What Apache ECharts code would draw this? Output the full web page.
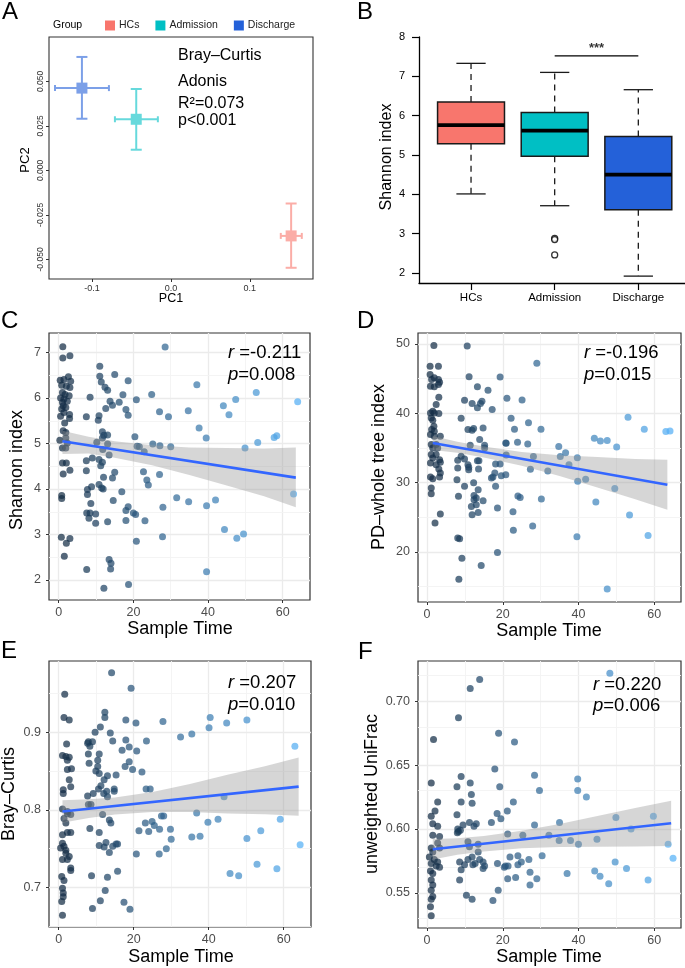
<!DOCTYPE html>
<html><head><meta charset="utf-8">
<script src="https://cdn.jsdelivr.net/npm/echarts@6/dist/echarts.min.js"></script>
<style>html,body{margin:0;padding:0;background:#fff}#c{width:685px;height:968px}</style>
</head><body><div id="c"></div>
<script>
const FONT = '"Liberation Sans", Arial, Helvetica, sans-serif';

// ---------- Panel A : PCoA group means with error bars ----------
const groups = ['HCs', 'Admission', 'Discharge'];
const pc1Mean = [0.1523, -0.0439, -0.1127];
const pc1Low  = [0.1392, -0.0709, -0.1468];
const pc1High = [0.1658, -0.0165, -0.0785];
const pc2Mean = [-0.0368, 0.0287, 0.0462];
const pc2Low  = [-0.0547, 0.0116, 0.0290];
const pc2High = [-0.0186, 0.0457, 0.0637];
const pc1Ticks = [-0.1, 0, 0.1];
const pc1TickLabels = ['-0.1', '0.0', '0.1'];
const pc2Ticks = [-0.05, -0.025, 0, 0.025, 0.05];
const pc2TickLabels = ['-0.050', '-0.025', '0.000', '0.025', '0.050'];

// ---------- Panel B : Shannon boxplot ----------
// [lower whisker, Q1, median, Q3, upper whisker]
const boxStats = [
  [4.01, 5.285, 5.76, 6.35, 7.33],
  [3.71, 4.97, 5.62, 6.08, 7.10],
  [1.92, 3.61, 4.50, 5.47, 6.66]
];
const boxOutliers = [[2, 2.88], [2, 2.85], [2, 2.46]];
const boxTicks = [2, 3, 4, 5, 6, 7, 8];
const sigBracket = [[2, 7.52], [3, 7.52]];

// ---------- Scatter panels: [Sample Time, value] ----------
const shannonPoints = [
[1.1,7.13],[1.1,6.88],[3.0,6.93],[11.0,6.70],[11.0,6.48],[15.0,6.52],[18.6,6.38],[11.4,6.35],[12.4,6.24],[13.1,6.17],
[0.4,6.39],[1.4,6.41],[2.6,6.47],[3.2,6.37],[0.8,6.28],[2.05,6.26],[3.0,6.23],[1.0,6.12],[1.7,6.08],[2.8,6.05],[0.5,6.0],[1.4,5.98],[2.3,5.93],[1.0,5.9],[1.2,5.83],[0.8,5.76],[1.9,5.79],[1.4,5.68],
[8.4,6.02],[17.2,6.07],[16.2,5.91],[13.75,5.93],[14.4,5.84],[12.6,5.77],[18.0,5.75],[18.6,5.62],[20.8,5.96],[7.4,5.59],[0.5,5.60],[2.9,5.64],[2.9,5.55],[10.8,5.61],[10.6,5.51],[1.6,5.45],[1.2,5.28],[1.9,5.24],[1.9,5.12],[11.7,5.26],[12.1,5.18],[13.1,5.19],[11.7,5.12],[20.4,5.15],[0.3,5.07],[1.0,4.90],[2.3,5.01],[1.9,4.90],[10.2,5.03],[13.1,4.99],[11.8,4.87],[13.5,4.75],[21.0,4.94],[7.4,4.62],[9.0,4.68],[10.8,4.65],[11.7,4.59],[11.25,4.51],[1.0,4.57],[2.05,4.57],[7.4,4.40],[3.0,4.41],[1.2,4.33],[15.0,4.37],[14.4,4.24],[12.0,4.26],[8.8,4.05],[7.7,3.99],[7.7,3.88],[10.8,4.10],[11.5,4.02],[11.9,4.0],[16.9,3.94],[0.8,3.86],[0.8,3.79],[14.6,3.75],[8.6,3.68],[18.6,3.61],[18.0,3.53],[20.0,3.47],[20.6,3.44],[7.5,3.47],[8.4,3.47],[9.9,3.45],[8.1,3.36],[9.9,3.25],[13.1,3.28],[18.0,3.31],[20.8,2.85],[0.7,2.94],[3.0,2.91],[2.05,2.81],[1.5,2.52],[7.5,2.23],[13.5,2.45],[14.0,2.37],[13.9,2.24],[12.1,1.82],[18.7,1.90],
[28.5,7.12],[37.0,6.29],[24.9,6.08],[34.7,5.72],[27.0,5.70],[29.4,5.59],[44.1,5.83],[47.4,5.97],[45.6,5.63],[52.9,6.12],[64.0,5.92],[37.6,5.34],[39.5,5.12],[21.6,4.93],[22.9,4.82],[25.2,4.99],[27.1,4.95],[30.0,4.93],[49.9,4.90],[53.3,5.02],[57.7,5.13],[58.4,5.17],[22.7,4.38],[23.6,4.20],[24.0,4.09],[27.0,4.32],[31.6,3.81],[34.8,3.72],[39.6,3.63],[42.0,3.76],[27.9,3.60],[23.1,3.30],[27.8,2.95],[44.4,3.11],[47.7,2.92],[49.5,3.01],[39.6,2.18],[62.9,3.89]
];
const pdPoints = [
[1.8,49.76],[10.6,49.66],[0.8,46.77],[3.0,46.77],[0.8,45.57],[1.9,45.09],[3.0,44.85],[3.3,44.46],[0.9,43.89],[1.9,43.79],[3.0,44.13],[1.2,44.85],[11.1,45.23],[19.3,45.19],[13.3,43.79],[16.1,43.31],[3.1,42.30],[2.4,41.24],[1.5,40.27],[0.9,40.03],[1.9,40.03],[3.1,39.94],[1.1,39.31],[1.5,38.97],[1.8,38.11],[9.9,41.86],[11.9,41.38],[13.3,40.76],[14.5,41.72],[14.1,41.38],[17.2,40.52],[9.0,39.26],[10.8,37.63],[11.9,37.53],[12.3,37.77],[14.8,37.87],[1.2,37.63],[1.9,37.39],[0.9,36.9],[1.9,36.66],[3.5,36.66],[13.9,36.18],[11.4,35.36],[15.2,35.36],[15.2,34.98],[20.8,35.70],[1.1,35.46],[2.4,35.46],[1.5,34.98],[2.8,34.98],[1.1,34.02],[2.4,34.02],[1.5,33.53],[3.3,33.29],[0.9,32.81],[2.4,32.57],[3.5,32.91],[9.0,33.77],[8.1,33.2],[9.9,33.39],[10.8,32.57],[8.1,32.09],[13.3,33.15],[13.7,33.15],[13.6,31.95],[11.0,32.19],[11.0,31.85],[18.1,32.67],[19.3,32.67],[3.1,31.95],[3.5,31.37],[0.9,30.79],[1.5,30.55],[3.3,30.79],[17.9,31.37],[17.4,30.79],[17.0,30.65],[19.6,30.98],[20.8,31.13],[7.9,30.4],[9.9,29.44],[12.3,29.97],[18.1,29.44],[1.1,29.2],[1.1,28.38],[8.3,28.0],[13.5,28.96],[12.4,28.14],[13.0,27.76],[12.4,27.52],[14.8,27.37],[11.7,26.55],[13.0,26.79],[11.9,25.35],[13.5,25.69],[18.6,26.31],[3.5,25.44],[2.1,24.15],[8.1,21.98],[8.6,21.88],[9.2,19.09],[18.6,19.91],[14.3,18.03],[8.4,16.06],
[29.0,47.2],[21.1,42.15],[25.1,41.9],[22.2,39.26],[23.1,37.67],[26.8,38.6],[30.1,37.67],[20.9,35.65],[23.9,35.8],[26.6,35.56],[20.9,33.97],[28.1,33.73],[27.3,31.9],[31.9,31.65],[34.8,35.17],[35.2,33.73],[36.6,34.3],[37.5,32.57],[39.7,33.58],[39.8,30.16],[41.9,30.45],[44.2,36.37],[45.8,35.99],[47.6,36.04],[50.1,35.12],[53.1,39.41],[57.4,37.67],[63.1,37.34],[64.2,37.43],[49.6,29.15],[44.6,27.18],[53.5,25.3],[58.4,22.36],[39.6,22.17],[47.6,14.66],[30.2,27.61],[24.6,27.85],[24.0,28.04],[22.7,25.78],[22.8,23.13],[27.9,23.71]
];
const brayPoints = [
[14.1,0.977],[19.3,0.957],[1.6,0.949],[1.4,0.919],[2.8,0.916],[12.3,0.926],[12.3,0.919],[11.1,0.907],[9.7,0.900],[17.9,0.916],[20.6,0.912],[13.75,0.899],[14.4,0.889],[9.0,0.888],[7.9,0.888],[7.7,0.886],[8.3,0.882],[17.9,0.890],[16.9,0.877],[18.8,0.881],[20.8,0.876],[2.1,0.885],[1.0,0.870],[1.9,0.869],[2.8,0.868],[2.3,0.864],[7.9,0.872],[10.8,0.872],[10.4,0.864],[8.1,0.860],[18.8,0.862],[17.7,0.856],[19.7,0.852],[10.4,0.856],[9.9,0.850],[10.8,0.847],[2.3,0.852],[3.4,0.853],[2.8,0.839],[3.2,0.830],[1.2,0.826],[1.2,0.821],[15.3,0.845],[13.0,0.844],[12.1,0.839],[11.25,0.831],[10.6,0.827],[12.0,0.821],[14.8,0.827],[14.8,0.824],[12.8,0.824],[13.0,0.817],[9.2,0.821],[7.7,0.818],[8.6,0.807],[7.9,0.807],[11.7,0.794],[13.5,0.787],[13.9,0.783],[1.0,0.801],[2.3,0.798],[1.4,0.789],[1.9,0.783],[2.3,0.795],[3.2,0.794],[8.3,0.776],[10.8,0.771],[1.0,0.768],[2.3,0.771],[3.2,0.771],[1.0,0.757],[1.4,0.753],[1.9,0.748],[0.5,0.751],[1.9,0.744],[2.8,0.740],[2.3,0.736],[1.0,0.736],[10.8,0.754],[12.6,0.758],[12.1,0.752],[13.5,0.745],[14.4,0.753],[15.3,0.756],[15.7,0.756],[3.2,0.725],[3.2,0.722],[8.75,0.715],[13.0,0.713],[15.7,0.721],[0.8,0.714],[1.4,0.709],[1.0,0.699],[1.2,0.693],[1.2,0.688],[0.8,0.682],[12.4,0.696],[11.1,0.683],[9.0,0.673],[17.4,0.681],[19.0,0.672],[1.0,0.664],[21.4,0.773],[20.7,0.743],
[23.4,0.889],[27.8,0.914],[32.5,0.894],[35.5,0.898],[40.1,0.906],[40.4,0.919],[44.8,0.912],[50.2,0.916],[63.0,0.882],[22.2,0.849],[23.3,0.827],[24.4,0.827],[44.1,0.817],[23.1,0.783],[24.0,0.772],[24.9,0.785],[25.5,0.780],[26.9,0.775],[27.4,0.792],[28.0,0.792],[29.8,0.775],[30.0,0.762],[28.7,0.750],[26.8,0.743],[36.8,0.796],[35.5,0.765],[37.7,0.766],[39.8,0.784],[42.5,0.788],[45.7,0.718],[48.0,0.715],[50.2,0.763],[52.9,0.730],[53.9,0.773],[58.2,0.724],[59.1,0.788],[64.4,0.755]
];
const unifracPoints = [
[13.9,0.717],[11.4,0.710],[8.3,0.687],[1.7,0.670],[18.9,0.675],[17.9,0.647],[1.1,0.636],[9.0,0.641],[7.9,0.633],[11.4,0.636],[11.7,0.627],[9.0,0.621],[11.9,0.620],[19.2,0.633],[2.8,0.621],[2.1,0.614],[1.1,0.610],[1.5,0.604],[2.8,0.602],[1.5,0.595],[3.3,0.594],[7.9,0.611],[8.1,0.600],[8.3,0.598],[9.5,0.603],[11.2,0.605],[13.0,0.604],[12.4,0.602],[18.5,0.612],[19.5,0.608],[17.0,0.605],[8.8,0.599],[8.0,0.597],[2.8,0.589],[3.3,0.585],[1.1,0.585],[1.5,0.582],[0.6,0.578],[1.9,0.576],[2.8,0.574],[1.1,0.573],[2.4,0.571],[3.3,0.570],[0.9,0.567],[1.5,0.565],[1.1,0.560],[1.5,0.556],[1.1,0.552],[1.5,0.547],[1.1,0.545],[0.9,0.539],[1.1,0.532],[10.8,0.590],[11.2,0.586],[13.5,0.588],[13.5,0.582],[11.9,0.578],[13.9,0.576],[14.8,0.574],[15.2,0.571],[10.8,0.576],[9.9,0.572],[8.6,0.574],[12.1,0.572],[12.7,0.573],[14.8,0.569],[9.0,0.568],[8.6,0.560],[18.6,0.573],[20.7,0.571],[18.8,0.552],[17.4,0.544],[11.9,0.545],[10.4,0.548],
[48.3,0.722],[23.1,0.668],[28.4,0.642],[29.7,0.630],[39.8,0.639],[39.8,0.630],[42.1,0.625],[22.8,0.621],[21.2,0.614],[28.4,0.603],[35.0,0.605],[21.3,0.596],[25.3,0.595],[32.2,0.595],[34.9,0.591],[37.9,0.591],[40.0,0.588],[44.9,0.592],[49.9,0.609],[53.9,0.600],[59.8,0.610],[63.7,0.588],[65.0,0.577],[21.9,0.578],[24.0,0.579],[24.9,0.574],[24.0,0.572],[21.4,0.571],[20.4,0.570],[26.9,0.576],[30.4,0.579],[27.2,0.566],[23.4,0.562],[21.3,0.561],[27.2,0.556],[29.0,0.561],[37.0,0.565],[44.3,0.567],[45.7,0.563],[48.0,0.557],[49.7,0.574],[52.7,0.569],[58.4,0.560]
];

// regression lines and confidence bands
const shannonFitX = [1, 63.5], shannonFitY = [5.05, 4.25];
const shannonBandX = [1, 8, 15, 25, 35, 45, 55, 63.5];
const shannonBandLo = [4.77, 4.78, 4.69, 4.52, 4.31, 4.08, 3.84, 3.60];
const shannonBandHi = [5.28, 5.15, 5.05, 4.96, 4.91, 4.90, 4.89, 4.91];

const pdFitX = [1.5, 63.5], pdFitY = [35.70, 29.67];
const pdBandX = [1.5, 8, 15, 25, 35, 45, 55, 63.5];
const pdBandLo = [34.70, 34.27, 33.61, 32.41, 30.94, 29.27, 27.60, 26.07];
const pdBandHi = [36.70, 35.87, 35.17, 34.41, 33.94, 33.67, 33.40, 33.27];

const brayFitX = [1, 64], brayFitY = [0.798, 0.830];
const brayBandX = [1, 8, 15, 25, 35, 45, 55, 64];
const brayBandLo = [0.7835, 0.7896, 0.7941, 0.7972, 0.7973, 0.7954, 0.7944, 0.7925];
const brayBandHi = [0.8125, 0.8136, 0.8161, 0.8232, 0.8333, 0.8454, 0.8564, 0.8675];

const unifracFitX = [1.5, 64.5], unifracFitY = [0.5841, 0.6044];
const unifracBandX = [1.5, 8, 15, 25, 35, 45, 55, 64.5];
const unifracBandLo = [0.5761, 0.5797, 0.5824, 0.5849, 0.5859, 0.5861, 0.5863, 0.5867];
const unifracBandHi = [0.5921, 0.5927, 0.5944, 0.5985, 0.6039, 0.6101, 0.6163, 0.6221];

const timeTicks = [0, 20, 40, 60];
const timeMinor = [10, 30, 50];
const shannonTicks = [2, 3, 4, 5, 6, 7], shannonMinor = [2.5, 3.5, 4.5, 5.5, 6.5];
const pdTicks = [20, 30, 40, 50], pdMinor = [15, 25, 35, 45];
const brayTicks = [0.7, 0.8, 0.9], brayMinor = [0.65, 0.75, 0.85, 0.95];
const unifracTicks = [0.55, 0.60, 0.65, 0.70], unifracMinor = [0.525, 0.575, 0.625, 0.675, 0.725];

// ---------- styling ----------
const groupColors = ['#F8766D', '#00BFC4', '#2461D9'];
const groupLight = ['#FBADA7', '#66D9DC', '#7CA0E8'];

const chart = echarts.init(document.getElementById('c'), null, {renderer: 'canvas'});

const grids = [
  {left: 49, top: 37, width: 264, height: 242, show: true, borderColor: '#333', borderWidth: 1.1, backgroundColor: '#fff'},
  {left: 419, top: 37, width: 266, height: 246},
  {left: 49, top: 333, width: 261, height: 267, show: true, borderColor: '#333', borderWidth: 1.2, backgroundColor: '#fff'},
  {left: 418, top: 333, width: 263, height: 269, show: true, borderColor: '#333', borderWidth: 1.2, backgroundColor: '#fff'},
  {left: 49, top: 661, width: 262, height: 266, show: true, borderColor: '#333', borderWidth: 1.2, backgroundColor: '#fff'},
  {left: 418, top: 661, width: 263, height: 267, show: true, borderColor: '#333', borderWidth: 1.2, backgroundColor: '#fff'}
].map(g => Object.assign({containLabel: false, outerBoundsMode: 'none'}, g));

const xAxes = [], yAxes = [];
// A
xAxes.push({type: 'value', gridIndex: 0, min: -0.1544, max: 0.18, axisLine: {show: false, onZero: false}, splitLine: {show: false},
  axisTick: {show: true, customValues: pc1Ticks, length: 3, lineStyle: {color: '#333'}},
  axisLabel: {customValues: pc1Ticks, margin: 5, fontSize: 9, fontFamily: FONT, color: '#333',
    formatter: v => pc1TickLabels[pc1Ticks.findIndex(t => Math.abs(t - v) < 1e-9)]}});
yAxes.push({type: 'value', gridIndex: 0, min: -0.061, max: 0.0749, axisLine: {show: false, onZero: false}, splitLine: {show: false},
  axisTick: {show: true, customValues: pc2Ticks, length: 3, lineStyle: {color: '#333'}},
  axisLabel: {customValues: pc2Ticks, margin: 4, rotate: 90, fontSize: 8.5, fontFamily: FONT, color: '#333',
    formatter: v => pc2TickLabels[pc2Ticks.findIndex(t => Math.abs(t - v) < 1e-9)]}});
// B
xAxes.push({type: 'value', gridIndex: 1, min: 0.378, max: 3.558, splitLine: {show: false},
  axisLine: {show: true, onZero: false, lineStyle: {color: '#000', width: 1.3}},
  axisTick: {show: true, customValues: [1, 2, 3], length: 7, lineStyle: {color: '#000', width: 1.2}},
  axisLabel: {customValues: [1, 2, 3], margin: 9, fontSize: 11.5, fontFamily: FONT, color: '#000',
    formatter: v => groups[Math.round(v) - 1]}});
yAxes.push({type: 'value', gridIndex: 1, min: 1.745, max: 8.0, splitLine: {show: false},
  axisLine: {show: true, onZero: false, lineStyle: {color: '#000', width: 1.3}},
  axisTick: {show: true, customValues: boxTicks, length: 7, lineStyle: {color: '#000', width: 1.2}},
  axisLabel: {customValues: boxTicks, margin: 14, fontSize: 11, fontFamily: FONT, color: '#000'}});

function scatterAxes(gi, xmin, xmax, ymin, ymax, yTicks, yFmt) {
  xAxes.push({type: 'value', gridIndex: gi, min: xmin, max: xmax, axisLine: {show: false, onZero: false}, splitLine: {show: false},
    axisTick: {show: true, customValues: timeTicks, length: 3, lineStyle: {color: '#333', width: 1}},
    axisLabel: {customValues: timeTicks, margin: 6, fontSize: 12.5, fontFamily: FONT, color: '#4d4d4d'}});
  yAxes.push({type: 'value', gridIndex: gi, min: ymin, max: ymax, axisLine: {show: false, onZero: false}, splitLine: {show: false},
    axisTick: {show: true, customValues: yTicks, length: 3, lineStyle: {color: '#333', width: 1}},
    axisLabel: {customValues: yTicks, margin: 8, fontSize: 12.5, fontFamily: FONT, color: '#4d4d4d', formatter: yFmt}});
}
scatterAxes(2, -2.6, 67.3, 1.56, 7.43, shannonTicks, v => String(Math.round(v)));
scatterAxes(3, -2.4, 67.1, 12.77, 51.55, pdTicks, v => String(Math.round(v)));
scatterAxes(4, -2.6, 67.3, 0.649, 0.992, brayTicks, v => v.toFixed(1));
scatterAxes(5, -2.4, 67.1, 0.5224, 0.7315, unifracTicks, v => v.toFixed(2));

const series = [];
// A error bars
series.push({
  type: 'custom', xAxisIndex: 0, yAxisIndex: 0, z: 3, silent: true,
  data: groups.map((g, i) => [pc1Mean[i], pc2Mean[i], pc1Low[i], pc1High[i], pc2Low[i], pc2High[i], i]),
  renderItem: function (params, api) {
    const c = api.coord([api.value(0), api.value(1)]);
    const xl = api.coord([api.value(2), api.value(1)]);
    const xh = api.coord([api.value(3), api.value(1)]);
    const yl = api.coord([api.value(0), api.value(4)]);
    const yh = api.coord([api.value(0), api.value(5)]);
    const st = {stroke: groupLight[api.value(6)], lineWidth: 2};
    const L = (x1, y1, x2, y2) => ({type: 'line', shape: {x1, y1, x2, y2}, style: st});
    return {type: 'group', children: [
      L(xl[0], c[1], xh[0], c[1]), L(xl[0], c[1] - 3, xl[0], c[1] + 3), L(xh[0], c[1] - 3, xh[0], c[1] + 3),
      L(c[0], yl[1], c[0], yh[1]), L(c[0] - 5.5, yl[1], c[0] + 5.5, yl[1]), L(c[0] - 5.5, yh[1], c[0] + 5.5, yh[1])
    ]};
  }
});
groups.forEach((g, i) => series.push({
  type: 'scatter', name: g, xAxisIndex: 0, yAxisIndex: 0, symbol: 'rect', symbolSize: 11, z: 4, silent: true,
  itemStyle: {color: groupLight[i], opacity: 1}, data: [[pc1Mean[i], pc2Mean[i]]]
}));

// B boxes
series.push({
  type: 'custom', xAxisIndex: 1, yAxisIndex: 1, z: 3, silent: true,
  data: boxStats.map((s, i) => [i + 1].concat(s)),
  encode: {x: 0, y: [1, 2, 3, 4, 5]},
  renderItem: function (params, api) {
    const x = api.value(0);
    const v = [1, 2, 3, 4, 5].map(k => api.value(k));
    const P = (xx, yy) => api.coord([xx, yy]);
    const lo = P(x, v[0]), q1 = P(x, v[1]), md = P(x, v[2]), q3 = P(x, v[3]), hi = P(x, v[4]);
    const bl = P(x - 0.4, v[1])[0], br = P(x + 0.4, v[1])[0];
    const cl = P(x - 0.175, v[0])[0], cr = P(x + 0.175, v[0])[0];
    const dash = {stroke: '#1a1a1a', lineWidth: 1.3, lineDash: [6, 5]};
    const solid = {stroke: '#1a1a1a', lineWidth: 1.3};
    return {type: 'group', children: [
      {type: 'line', shape: {x1: q3[0], y1: q3[1], x2: hi[0], y2: hi[1]}, style: dash},
      {type: 'line', shape: {x1: q1[0], y1: q1[1], x2: lo[0], y2: lo[1]}, style: dash},
      {type: 'line', shape: {x1: cl, y1: hi[1], x2: cr, y2: hi[1]}, style: solid},
      {type: 'line', shape: {x1: cl, y1: lo[1], x2: cr, y2: lo[1]}, style: solid},
      {type: 'rect', shape: {x: bl, y: q3[1], width: br - bl, height: q1[1] - q3[1]},
        style: {fill: groupColors[params.dataIndex], stroke: '#1a1a1a', lineWidth: 1.5}},
      {type: 'line', shape: {x1: bl, y1: md[1], x2: br, y2: md[1]}, style: {stroke: '#000', lineWidth: 3.6}}
    ]};
  }
});
series.push({type: 'scatter', xAxisIndex: 1, yAxisIndex: 1, data: boxOutliers, symbol: 'circle', symbolSize: 6, silent: true,
  itemStyle: {color: '#fff', borderColor: '#000', borderWidth: 1.3}, z: 4});
series.push({type: 'line', xAxisIndex: 1, yAxisIndex: 1, data: sigBracket, symbol: 'none', silent: true,
  lineStyle: {color: '#000', width: 1.2}});
series.push({type: 'scatter', xAxisIndex: 1, yAxisIndex: 1, data: [[2.5, 7.52]], symbolSize: 0, silent: true,
  label: {show: true, formatter: '***', position: 'top', distance: 1, fontSize: 13, fontWeight: 'bold', color: '#000', fontFamily: FONT}});

// scatter panels
const scatterIdx = [];
function scatterPanel(gi, pts, fitX, fitY, bandX, bandLo, bandHi, yTicks, yMinor) {
  const major = {color: '#ebebeb', width: 1.3, type: 'solid'};
  const minor = {color: '#f3f3f3', width: 0.9, type: 'solid'};
  const ml = [];
  timeTicks.forEach(v => ml.push({xAxis: v, lineStyle: major}));
  timeMinor.forEach(v => ml.push({xAxis: v, lineStyle: minor}));
  yTicks.forEach(v => ml.push({yAxis: v, lineStyle: major}));
  yMinor.forEach(v => ml.push({yAxis: v, lineStyle: minor}));
  scatterIdx.push(series.length);
  series.push({type: 'scatter', xAxisIndex: gi, yAxisIndex: gi, data: pts, symbolSize: 7, z: 2, silent: true,
    itemStyle: {opacity: 0.72},
    markLine: {z: 1, silent: true, symbol: ['none', 'none'], label: {show: false}, animation: false, data: ml}});
  // confidence band polygon
  series.push({type: 'custom', xAxisIndex: gi, yAxisIndex: gi, z: 3, silent: true,
    data: [[bandX[0], bandLo[0]]],
    renderItem: function (params, api) {
      const upper = bandX.map((x, i) => api.coord([x, bandHi[i]]));
      const lower = bandX.map((x, i) => api.coord([x, bandLo[i]])).reverse();
      return {type: 'polygon', shape: {points: upper.concat(lower)},
        style: {fill: 'rgba(153,153,153,0.4)', stroke: 'none'}};
    }});
  series.push({type: 'line', xAxisIndex: gi, yAxisIndex: gi, symbol: 'none', silent: true, z: 4,
    lineStyle: {color: '#3366FF', width: 2.6}, data: fitX.map((x, i) => [x, fitY[i]])});
}
scatterPanel(2, shannonPoints, shannonFitX, shannonFitY, shannonBandX, shannonBandLo, shannonBandHi, shannonTicks, shannonMinor);
scatterPanel(3, pdPoints, pdFitX, pdFitY, pdBandX, pdBandLo, pdBandHi, pdTicks, pdMinor);
scatterPanel(4, brayPoints, brayFitX, brayFitY, brayBandX, brayBandLo, brayBandHi, brayTicks, brayMinor);
scatterPanel(5, unifracPoints, unifracFitX, unifracFitY, unifracBandX, unifracBandLo, unifracBandHi, unifracTicks, unifracMinor);

// texts
function T(text, x, y, size, o) {
  o = o || {};
  const style = {text: text, fill: o.color || '#000', fontSize: size, fontFamily: FONT,
    fontStyle: o.fontStyle || 'normal', textAlign: o.align || 'left', textVerticalAlign: 'middle',
    align: o.align || 'left', verticalAlign: 'middle'};
  if (o.rich) style.rich = o.rich;
  return {type: 'text', x: x, y: y, rotation: o.rot || 0, silent: true, z: 100, style: style};
}
const italicR = {i: {fontStyle: 'italic', fontSize: 18.5, fontFamily: FONT, fill: '#000'}};
const V = Math.PI / 2;
const graphics = [
  T('A', 2, 12, 24), T('B', 357, 12, 24), T('C', 1, 321, 24), T('D', 357, 321, 24), T('E', 1, 651, 24), T('F', 358, 652, 24),
  T('Group', 53, 25, 10.5),
  T('Bray\u2013Curtis', 178, 56, 16), T('Adonis', 178, 81.5, 16), T('R\u00b2=0.073', 178, 104, 16), T('p<0.001', 178, 121, 16),
  T('PC1', 171, 299, 12.5, {align: 'center'}), T('PC2', 25, 160, 13, {align: 'center', rot: V}),
  T('Shannon index', 387, 157, 16, {align: 'center', rot: V}),
  T('Shannon index', 17, 470, 18, {align: 'center', rot: V}),
  T('PD\u2013whole tree index', 379, 467, 18, {align: 'center', rot: V}),
  T('Bray\u2013Curtis', 9, 794, 18, {align: 'center', rot: V}),
  T('unweighted UniFrac', 372, 794, 18, {align: 'center', rot: V}),
  T('Sample Time', 180, 629, 18, {align: 'center'}), T('Sample Time', 549, 631, 18, {align: 'center'}),
  T('Sample Time', 181, 957, 18, {align: 'center'}), T('Sample Time', 549, 957, 18, {align: 'center'}),
  T('{i|r} =-0.211', 228, 353, 18.5, {rich: italicR}), T('{i|p}=0.008', 228, 375, 18.5, {rich: italicR}),
  T('{i|r} =-0.196', 584, 353, 18.5, {rich: italicR}), T('{i|p}=0.015', 584, 375, 18.5, {rich: italicR}),
  T('{i|r} =0.207', 228, 683, 18.5, {rich: italicR}), T('{i|p}=0.010', 228, 705, 18.5, {rich: italicR}),
  T('{i|r} =0.220', 593, 685, 18.5, {rich: italicR}), T('{i|p}=0.006', 593, 706, 18.5, {rich: italicR})
];

chart.setOption({
  animation: false,
  backgroundColor: '#fff',
  textStyle: {fontFamily: FONT},
  grid: grids,
  xAxis: xAxes,
  yAxis: yAxes,
  legend: {
    left: 105, top: 20, padding: 0, itemWidth: 10, itemHeight: 10, itemGap: 16, selectedMode: false,
    textStyle: {fontSize: 10.5, fontFamily: FONT, color: '#222', padding: [0, 0, 0, -1]},
    data: groups.map((g, i) => ({name: g, icon: 'rect', itemStyle: {color: groupColors[i], opacity: 1, borderWidth: 0}}))
  },
  visualMap: {show: false, type: 'continuous', seriesIndex: scatterIdx, dimension: 0, min: 0.3, max: 65,
    inRange: {color: ['#132B43', '#56B1F7']}},
  series: series,
  graphic: graphics
});
</script></body></html>
